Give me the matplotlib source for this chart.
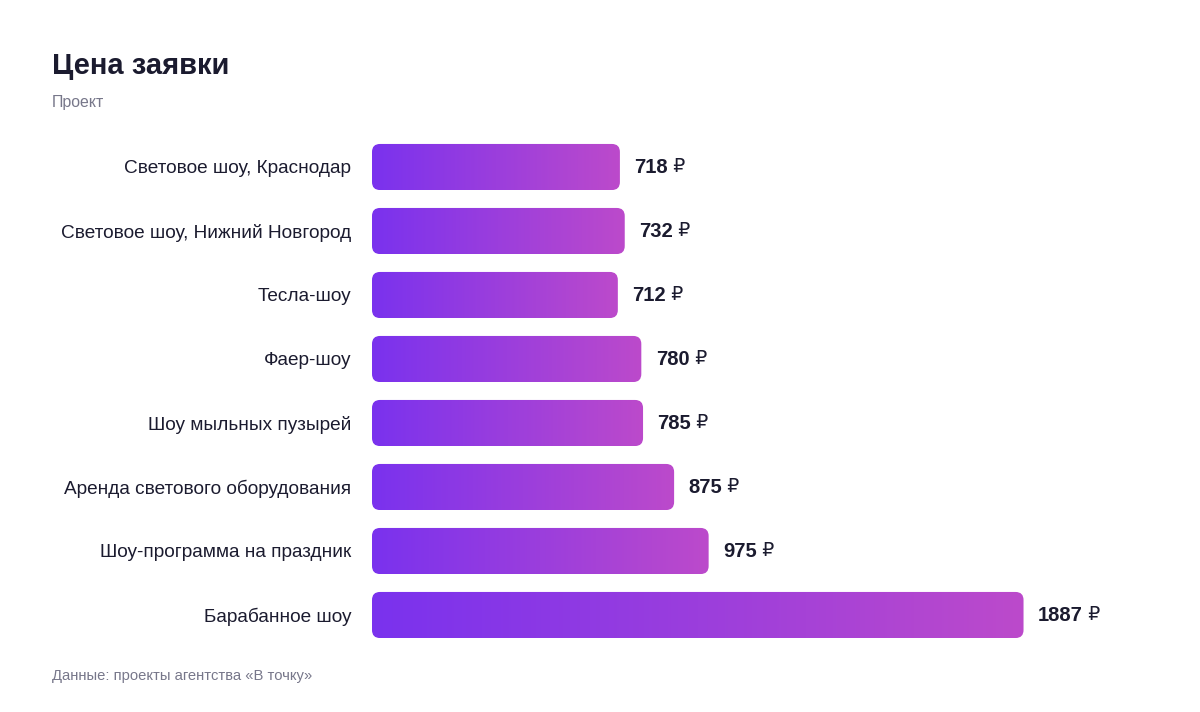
import matplotlib
matplotlib.use('Agg')
import numpy as np
from matplotlib import pyplot as plt
from matplotlib.colors import LinearSegmentedColormap
from matplotlib.patches import FancyBboxPatch

plt.rcParams['font.family'] = ['Liberation Sans', 'DejaVu Sans']

projects = [
    'Световое шоу, Краснодар',
    'Световое шоу, Нижний Новгород',
    'Тесла-шоу',
    'Фаер-шоу',
    'Шоу мыльных пузырей',
    'Аренда светового оборудования',
    'Шоу-программа на праздник',
    'Барабанное шоу',
]
prices = [718, 732, 712, 780, 785, 875, 975, 1887]

dark = '#1b1b2f'
grey = '#77778a'
grad = LinearSegmentedColormap.from_list('bar', ['#7a32ee', '#bc4acb'])

fig = plt.figure(figsize=(12, 7.12), dpi=100)
ax = fig.add_axes([0.31, 0.0913, 0.633, 0.7191])

xmax = 2200
bar_h = 0.72
gradient = np.linspace(0, 1, 256).reshape(1, -1)
# ratio of y units per pixel to x units per pixel, for round corners
aspect = (1 / 64) / (xmax / 760)

for i, (name, val) in enumerate(zip(projects, prices)):
    patch = FancyBboxPatch((0, i - bar_h / 2), val, bar_h,
                           boxstyle='round,pad=0,rounding_size=%f' % (8 * xmax / 760),
                           mutation_aspect=aspect, facecolor='none',
                           edgecolor='none')
    ax.add_patch(patch)
    img = ax.imshow(gradient, extent=(0, val, i + bar_h / 2, i - bar_h / 2),
                    aspect='auto', cmap=grad, interpolation='bicubic')
    img.set_clip_path(patch)

    num = ax.annotate(f'{val}', xy=(val, i), xytext=(10.5, -0.6),
                      textcoords='offset points', ha='left', va='center',
                      fontsize=14.5, fontweight='bold', color=dark)
    ax.annotate(' ₽', xycoords=num, xy=(1, 0.5), ha='left', va='center',
                fontsize=13.5, color=dark)

ax.set_xlim(0, xmax)
ax.set_ylim(len(projects) - 0.5, -0.5)
ax.set_yticks(range(len(projects)))
ax.set_yticklabels(projects, fontsize=13.7, color=dark)
ax.tick_params(axis='y', length=0, pad=15)
ax.set_xticks([])
for s in ax.spines.values():
    s.set_visible(False)

fig.text(52 / 1200, 1 - 66 / 712, 'Цена заявки', fontsize=21, fontweight='bold',
         color=dark, va='center', ha='left')
fig.text(52 / 1200, 1 - 103 / 712, 'Проект', fontsize=11.4, color=grey,
         va='center', ha='left')
fig.text(52 / 1200, 1 - 676 / 712, 'Данные: проекты агентства «В точку»',
         fontsize=10.6, color=grey, va='center', ha='left')

fig.savefig('out.png', dpi=100, facecolor='white')
